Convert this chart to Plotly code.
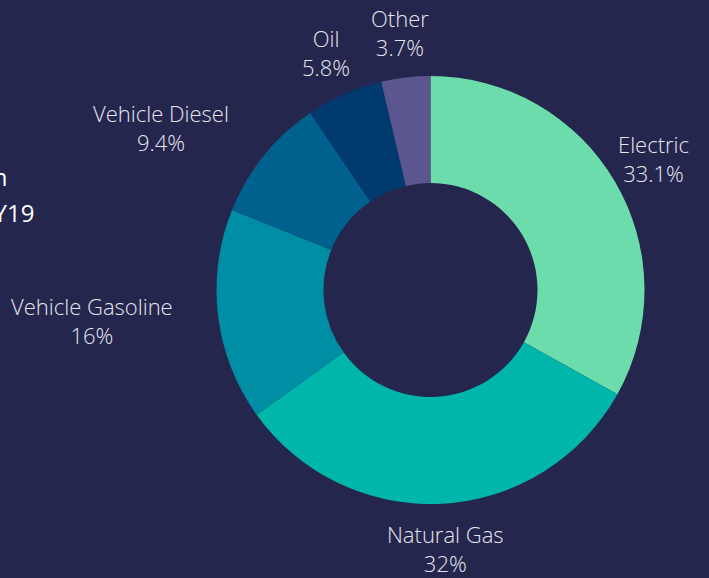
import math
import plotly.graph_objects as go

labels = ["Electric", "Natural Gas", "Vehicle Gasoline", "Vehicle Diesel", "Oil", "Other"]
values = [33.1, 32.0, 16.0, 9.4, 5.8, 3.7]
colors = ["#6ddcac", "#00b5aa", "#008ea5", "#00618e", "#003a6f", "#5b5690"]
label_anchor = ["center", "center", "right", "right", "center", "center"]
title_lines = ["Emissions Breakdown", "by Fuel Source in FY19"]

W, H = 709, 578
cx, cy, r = 430.5, 290, 214
label_r = 259

fig = go.Figure(go.Pie(
    labels=labels, values=values, sort=False, direction="clockwise", rotation=0,
    hole=0.5, marker=dict(colors=colors, line=dict(width=0)),
    textinfo="none", automargin=False, hoverinfo="label+percent",
    domain=dict(x=[(cx - r) / W, (cx + r) / W], y=[(H - cy - r) / H, (H - cy + r) / H]),
    showlegend=False,
))

total = sum(values)
cum = 0.0
for lab, v, anc in zip(labels, values, label_anchor):
    mid = (cum + v / 2) / total * 2 * math.pi
    cum += v
    px = cx + label_r * math.sin(mid) + (2 if anc == "right" else 0)
    py = cy - label_r * math.cos(mid)
    pct = f"{v / total * 100:.3g}%"
    fig.add_annotation(text=f"{lab}<br>{pct}", xref="paper", yref="paper",
                       x=px / W, y=1 - py / H, xanchor=anc, yanchor="middle",
                       align="center", showarrow=False,
                       font=dict(family="Open Sans", size=22, color="#e4e5ed", weight=300))

fig.add_annotation(text=title_lines[0], xref="paper", yref="paper", x=10 / W, y=1 - 176 / H,
                   xanchor="right", yanchor="middle", showarrow=False,
                   font=dict(family="Open Sans", size=24, color="#ffffff"))
fig.add_annotation(text=title_lines[1], xref="paper", yref="paper", x=36 / W, y=1 - 212 / H,
                   xanchor="right", yanchor="middle", showarrow=False,
                   font=dict(family="Open Sans", size=24, color="#ffffff"))

fig.update_layout(
    width=W, height=H, margin=dict(l=0, r=0, t=0, b=0, autoexpand=False),
    paper_bgcolor="#24264d", plot_bgcolor="#24264d",
)
fig.write_html("out.html", config={"displayModeBar": False})
with open("out.html", encoding="utf-8") as f:
    html = f.read()
html = html.replace("<body>", "<body style=\"margin:0;background:#24264d;overflow:hidden\">", 1)
with open("out.html", "w", encoding="utf-8") as f:
    f.write(html)
